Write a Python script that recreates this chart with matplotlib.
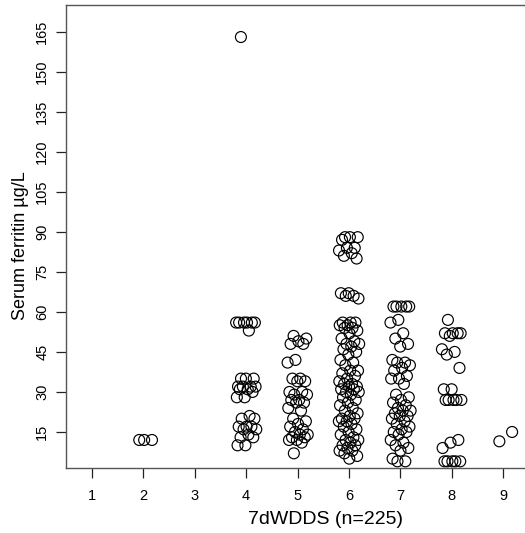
import numpy as np
import matplotlib
matplotlib.use("Agg")
import matplotlib.pyplot as plt

plt.rcParams['font.family'] = ['Liberation Sans', 'DejaVu Sans']

# Serum ferritin (µg/L) by 7-day women's dietary diversity score
scores = [2, 4, 5, 6, 7, 8, 9]
ferritin_2 = [12, 12, 12]
ferritin_4 = [163, 56, 56, 56, 56, 56, 56, 53, 35, 35, 35, 32, 32, 32, 32, 31, 31, 30,
              28, 28, 21, 20, 20, 17, 17, 17, 16, 16, 14, 13, 13, 10, 10]
ferritin_5 = [51, 50, 49, 48, 48, 42, 41, 35, 35, 34, 34, 30, 30, 29, 29, 27, 27, 26, 26,
              24, 23, 20, 19, 18, 17, 16, 15, 14, 14, 13, 13, 12, 12, 11, 7]
ferritin_6 = [88, 88, 88, 87, 84, 84, 83, 82, 81, 80, 67, 67, 66, 66, 65, 56, 56, 56, 55,
              55, 54, 54, 53, 52, 50, 49, 48, 48, 47, 46, 45, 44, 42, 41, 40, 38, 38, 37,
              36, 35, 34, 33, 33, 32, 32, 31, 31, 30, 30, 29, 28, 27, 26, 25, 24, 23, 22,
              21, 20, 20, 19, 19, 18, 17, 16, 15, 14, 13, 12, 12, 11, 10, 10, 9, 8, 8, 7, 6, 5]
ferritin_7 = [62, 62, 62, 62, 62, 57, 56, 52, 50, 48, 47, 42, 41, 41, 40, 39, 38, 36, 35,
              35, 33, 29, 28, 27, 26, 25, 24, 23, 23, 22, 21, 21, 20, 19, 18, 17, 16, 15,
              15, 14, 12, 11, 10, 9, 8, 5, 4, 4]
ferritin_8 = [57, 52, 52, 52, 52, 51, 46, 45, 44, 39, 31, 31, 27, 27, 27, 27, 27, 12, 11,
              9, 4, 4, 4, 4, 4]
ferritin_9 = [11.5, 15]
groups = [ferritin_2, ferritin_4, ferritin_5, ferritin_6, ferritin_7, ferritin_8, ferritin_9]

x_ticks = list(range(1, 10))
y_ticks = list(range(15, 166, 15))
x_label = "7dWDDS (n=225)"
y_label = "Serum ferritin µg/L"

W, H = 525, 533
fig = plt.figure(figsize=(W / 100, H / 100), dpi=100)
left, right, top, bottom = 66, 529, 5, 468
ax = fig.add_axes([left / W, (H - bottom) / H, (right - left) / W, (bottom - top) / H])

# deterministic horizontal jitter (+/-0.2), like R's jitter()
for s, vals in zip(scores, groups):
    n = len(vals)
    frac = (np.arange(n) * 0.6180339887 + 0.31) % 1.0
    xs = s + (frac * 2 - 1) * 0.2
    if vals[0] > 150:
        xs[0] = s - 0.1
    ax.scatter(xs, vals, s=62, facecolors='none', edgecolors='black', linewidths=0.85)

ax.set_xlim(0.5, 9.5)
ax.set_ylim(1.5, 175)
ax.set_xticks(x_ticks)
ax.set_xticklabels([str(t) for t in x_ticks], fontsize=10.5)
ax.set_yticks(y_ticks)
ax.set_yticklabels([str(t) for t in y_ticks], fontsize=10.5, rotation=90, va='center')
ax.tick_params(axis='x', length=7, width=0.9, color='#222222', pad=8)
ax.tick_params(axis='y', length=7, width=0.9, color='#222222', pad=5)
for sp in ax.spines.values():
    sp.set_color('#555555')
    sp.set_linewidth(1.0)
ax.set_xlabel(x_label, fontsize=14)
ax.set_ylabel(y_label, fontsize=13)
ax.xaxis.set_label_coords((326 - left) / (right - left), -0.092)
ax.yaxis.set_label_coords(-0.08, (bottom - 246) / (bottom - top))

fig.savefig("out.png", dpi=100)
